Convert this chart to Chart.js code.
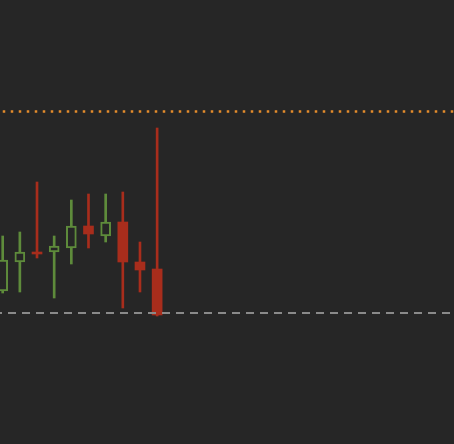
<!DOCTYPE html>
<html>
<head>
<meta charset="utf-8">
<script src="https://cdn.jsdelivr.net/npm/chart.js@4/dist/chart.umd.min.js"></script>
<style>
html,body{margin:0;padding:0;background:#262626;}
canvas{display:block;}
</style>
</head>
<body>
<canvas id="c" width="454" height="444"></canvas>
<script>
// Candle data (index, open, high, low, close)
const idx   = [0, 1, 2, 3, 4, 5, 6, 7, 8, 9];
const open  = [15.3, 18.2, 19.2, 19.2, 19.6, 21.8, 20.8, 22.2, 18.2, 17.5];
const high  = [20.8, 21.2, 26.2, 20.8, 24.4, 25.0, 25.0, 25.2, 20.2, 31.6];
const low   = [15.1, 15.2, 18.6, 14.6, 18.0, 19.6, 20.2, 13.6, 15.2, 12.8];
const close = [18.4, 19.2, 19.0, 19.8, 21.8, 21.0, 22.2, 18.2, 17.4, 12.9];
const refLevel = 33.25;   // dotted orange level
const lastLevel = 13.1;   // dashed grey level

const UP = '#5e8b3b', DOWN = '#a82d1c', BG = '#262626';
const isUp = i => close[i] >= open[i];
const last = idx.length - 1;

const bodies = idx.map(i => ({x: i, y: [open[i], close[i]]}));
const wicks  = idx.map(i => ({x: i, y: [low[i], high[i]]}));

const xMin = -0.157, xMax = 26.3;

new Chart(document.getElementById('c'), {
  type: 'bar',
  data: {
    datasets: [
      {
        data: bodies,
        backgroundColor: c => isUp(c.dataIndex) ? BG : DOWN,
        borderColor: c => isUp(c.dataIndex) ? UP : DOWN,
        borderWidth: c => isUp(c.dataIndex) ? 2 : 0,
        borderSkipped: false,
        barThickness: c => c.dataIndex === last ? 12 : 10,
        grouped: false,
        order: 1
      },
      {
        data: wicks,
        backgroundColor: c => isUp(c.dataIndex) ? UP : DOWN,
        borderWidth: 0,
        barThickness: c => c.dataIndex === last ? 4 : 2,
        grouped: false,
        order: 2
      },
      {
        type: 'line',
        data: [{x: xMin, y: refLevel}, {x: xMax, y: refLevel}],
        borderColor: '#e48c2c',
        borderWidth: 2.5,
        borderDash: [2.5, 5.5],
        borderDashOffset: 5.25,
        pointRadius: 0,
        order: 3
      },
      {
        type: 'line',
        data: [{x: xMin, y: lastLevel}, {x: xMax, y: lastLevel}],
        borderColor: '#8a8a8a',
        borderWidth: 2,
        borderDash: [8, 6],
        borderDashOffset: 6,
        pointRadius: 0,
        order: 0
      }
    ]
  },
  options: {
    responsive: false,
    animation: false,
    devicePixelRatio: 1,
    layout: {padding: 0},
    plugins: {legend: {display: false}, tooltip: {enabled: false}},
    scales: {
      x: {type: 'linear', min: xMin, max: xMax, offset: false, display: false},
      y: {type: 'linear', min: 0, max: 44.4, display: false}
    }
  }
});
</script>
</body>
</html>
